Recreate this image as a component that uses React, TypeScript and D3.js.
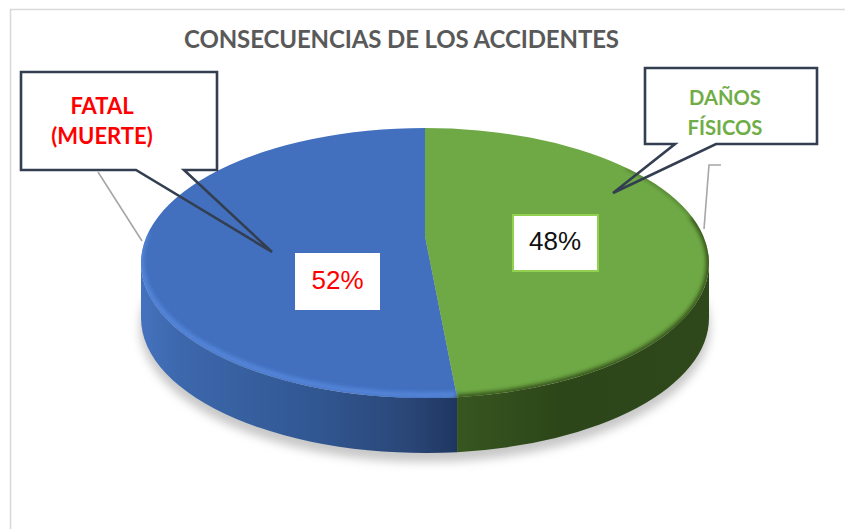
import React from "react";
import * as d3 from "d3";

const categories = ["DAÑOS FÍSICOS", "FATAL (MUERTE)"];
const values = [48.2, 51.8];
const valueLabels = ["48%", "52%"];
const chartTitle = "CONSECUENCIAS DE LOS ACCIDENTES";

const W = 845, H = 529;
const cx = 425, cy = 263, rx = 284, ry = 135, depth = 55, hubY = 236;

const arcs = d3.pie<number>().sort(null)(values);
const pt = (t: number, dy = 0): [number, number] => [cx + rx * Math.sin(t), cy - ry * Math.cos(t) + dy];

function face(a: number, b: number) {
  const [x0, y0] = pt(a), [xm, ym] = pt((a + b) / 2), [x1, y1] = pt(b);
  return `M${cx},${hubY}L${x0},${y0}A${rx},${ry} 0 0 1 ${xm},${ym}A${rx},${ry} 0 0 1 ${x1},${y1}Z`;
}
function wall(a: number, b: number) {
  const [x0, y0] = pt(a), [x1, y1] = pt(b), [x2, y2] = pt(b, depth), [x3, y3] = pt(a, depth);
  return `M${x0},${y0}A${rx},${ry} 0 0 1 ${x1},${y1}L${x2},${y2}A${rx},${ry} 0 0 0 ${x3},${y3}Z`;
}
function rim(a: number, b: number, inset = 0) {
  const [x0, y0] = pt(a), [x1, y1] = pt(b);
  return `M${x0},${y0 - inset}A${rx},${ry} 0 0 1 ${x1},${y1 - inset}`;
}

const split = arcs[0].endAngle;
const rad = (d: number) => (d * Math.PI) / 180;

export default function App() {
  return (
    <svg width={W} height={H} style={{ position: "fixed", left: 0, top: 0, background: "#fff" }}>
      <defs>
        <filter id="b6" x="-10%" y="-20%" width="120%" height="140%"><feGaussianBlur stdDeviation="5" /></filter>
        <filter id="b2" x="-10%" y="-20%" width="120%" height="140%"><feGaussianBlur stdDeviation="2" /></filter>
        <linearGradient id="wallBlue" gradientUnits="userSpaceOnUse" x1="141" x2="457" y1="0" y2="0">
          <stop offset="0" stopColor="#4572be" />
          <stop offset="0.12" stopColor="#3d68ad" />
          <stop offset="0.55" stopColor="#315792" />
          <stop offset="0.85" stopColor="#2a4677" />
          <stop offset="1" stopColor="#1f3661" />
        </linearGradient>
        <linearGradient id="wallGreen" gradientUnits="userSpaceOnUse" x1="457" x2="709" y1="0" y2="0">
          <stop offset="0" stopColor="#375620" />
          <stop offset="0.4" stopColor="#2d4619" />
          <stop offset="1" stopColor="#2e481b" />
        </linearGradient>
        <clipPath id="topClip"><ellipse cx={cx} cy={cy} rx={rx} ry={ry} /></clipPath>
      </defs>

      <path d={`M10.5,${H}V9.5H${W}`} fill="none" stroke="#d9d9d9" strokeWidth={1.6} />

      <text x={401.5} y={48} textAnchor="middle" fontFamily="Lato" fontWeight={700} fontSize={24} letterSpacing={-0.12} fill="#595959">{chartTitle}</text>

      <ellipse cx={cx} cy={cy + depth + 9} rx={rx + 1} ry={ry} fill="#b5b5b5" opacity={0.75} filter="url(#b6)" />

      <path d={wall(split, rad(270))} fill="url(#wallBlue)" />
      <path d={wall(rad(90), split)} fill="url(#wallGreen)" />

      <path d={face(arcs[1].startAngle, arcs[1].endAngle)} fill="#4270bf" />
      <path d={face(arcs[0].startAngle, arcs[0].endAngle)} fill="#6fa946" />

      <g clipPath="url(#topClip)">
        <path d={rim(split, rad(282), 3)} fill="none" stroke="#5b8de2" strokeWidth={5} opacity={0.85} filter="url(#b2)" />
        <path d={rim(rad(70), split, 0)} fill="none" stroke="#2d4619" strokeWidth={5} filter="url(#b2)" />
        <path d={rim(rad(45), rad(70), 0)} fill="none" stroke="#3c5f24" strokeWidth={2} filter="url(#b2)" />
      </g>

      <path d="M98,172L142,241" fill="none" stroke="#a6a6a6" strokeWidth={1.6} />
      <path d="M721,165H709L704,229" fill="none" stroke="#a6a6a6" strokeWidth={1.6} />

      <rect x={295} y={253} width={85} height={57} fill="#fff" />
      <text x={337.5} y={289} textAnchor="middle" fontFamily="Liberation Sans" fontSize={26} fill="#ff0000">{valueLabels[1]}</text>

      <rect x={513} y={215} width={85} height={56} fill="#fff" stroke="#92d050" strokeWidth={2} />
      <text x={555} y={250} textAnchor="middle" fontFamily="Liberation Sans" fontSize={26} fill="#111">{valueLabels[0]}</text>

      <rect x={21} y={72} width={196} height={98} fill="#fff" />
      <path d="M136,170H21V72H217V170H184L272,252Z" fill="none" stroke="#333f50" strokeWidth={2.6} />
      <text textAnchor="middle" fontFamily="Lato" fontWeight={700} fontSize={22} fill="#ff0000">
        <tspan x={102} y={114}>FATAL</tspan>
        <tspan x={102} y={144}>(MUERTE)</tspan>
      </text>

      <rect x={645} y={68} width={172} height={76} fill="#fff" />
      <path d="M675,144H645V68H817V144H716L613,193Z" fill="none" stroke="#333f50" strokeWidth={2.6} />
      <text textAnchor="middle" fontFamily="Lato" fontWeight={700} fontSize={20.2} fill="#70ad47">
        <tspan x={725} y={105}>DAÑOS</tspan>
        <tspan x={725} y={135}>FÍSICOS</tspan>
      </text>
    </svg>
  );
}
